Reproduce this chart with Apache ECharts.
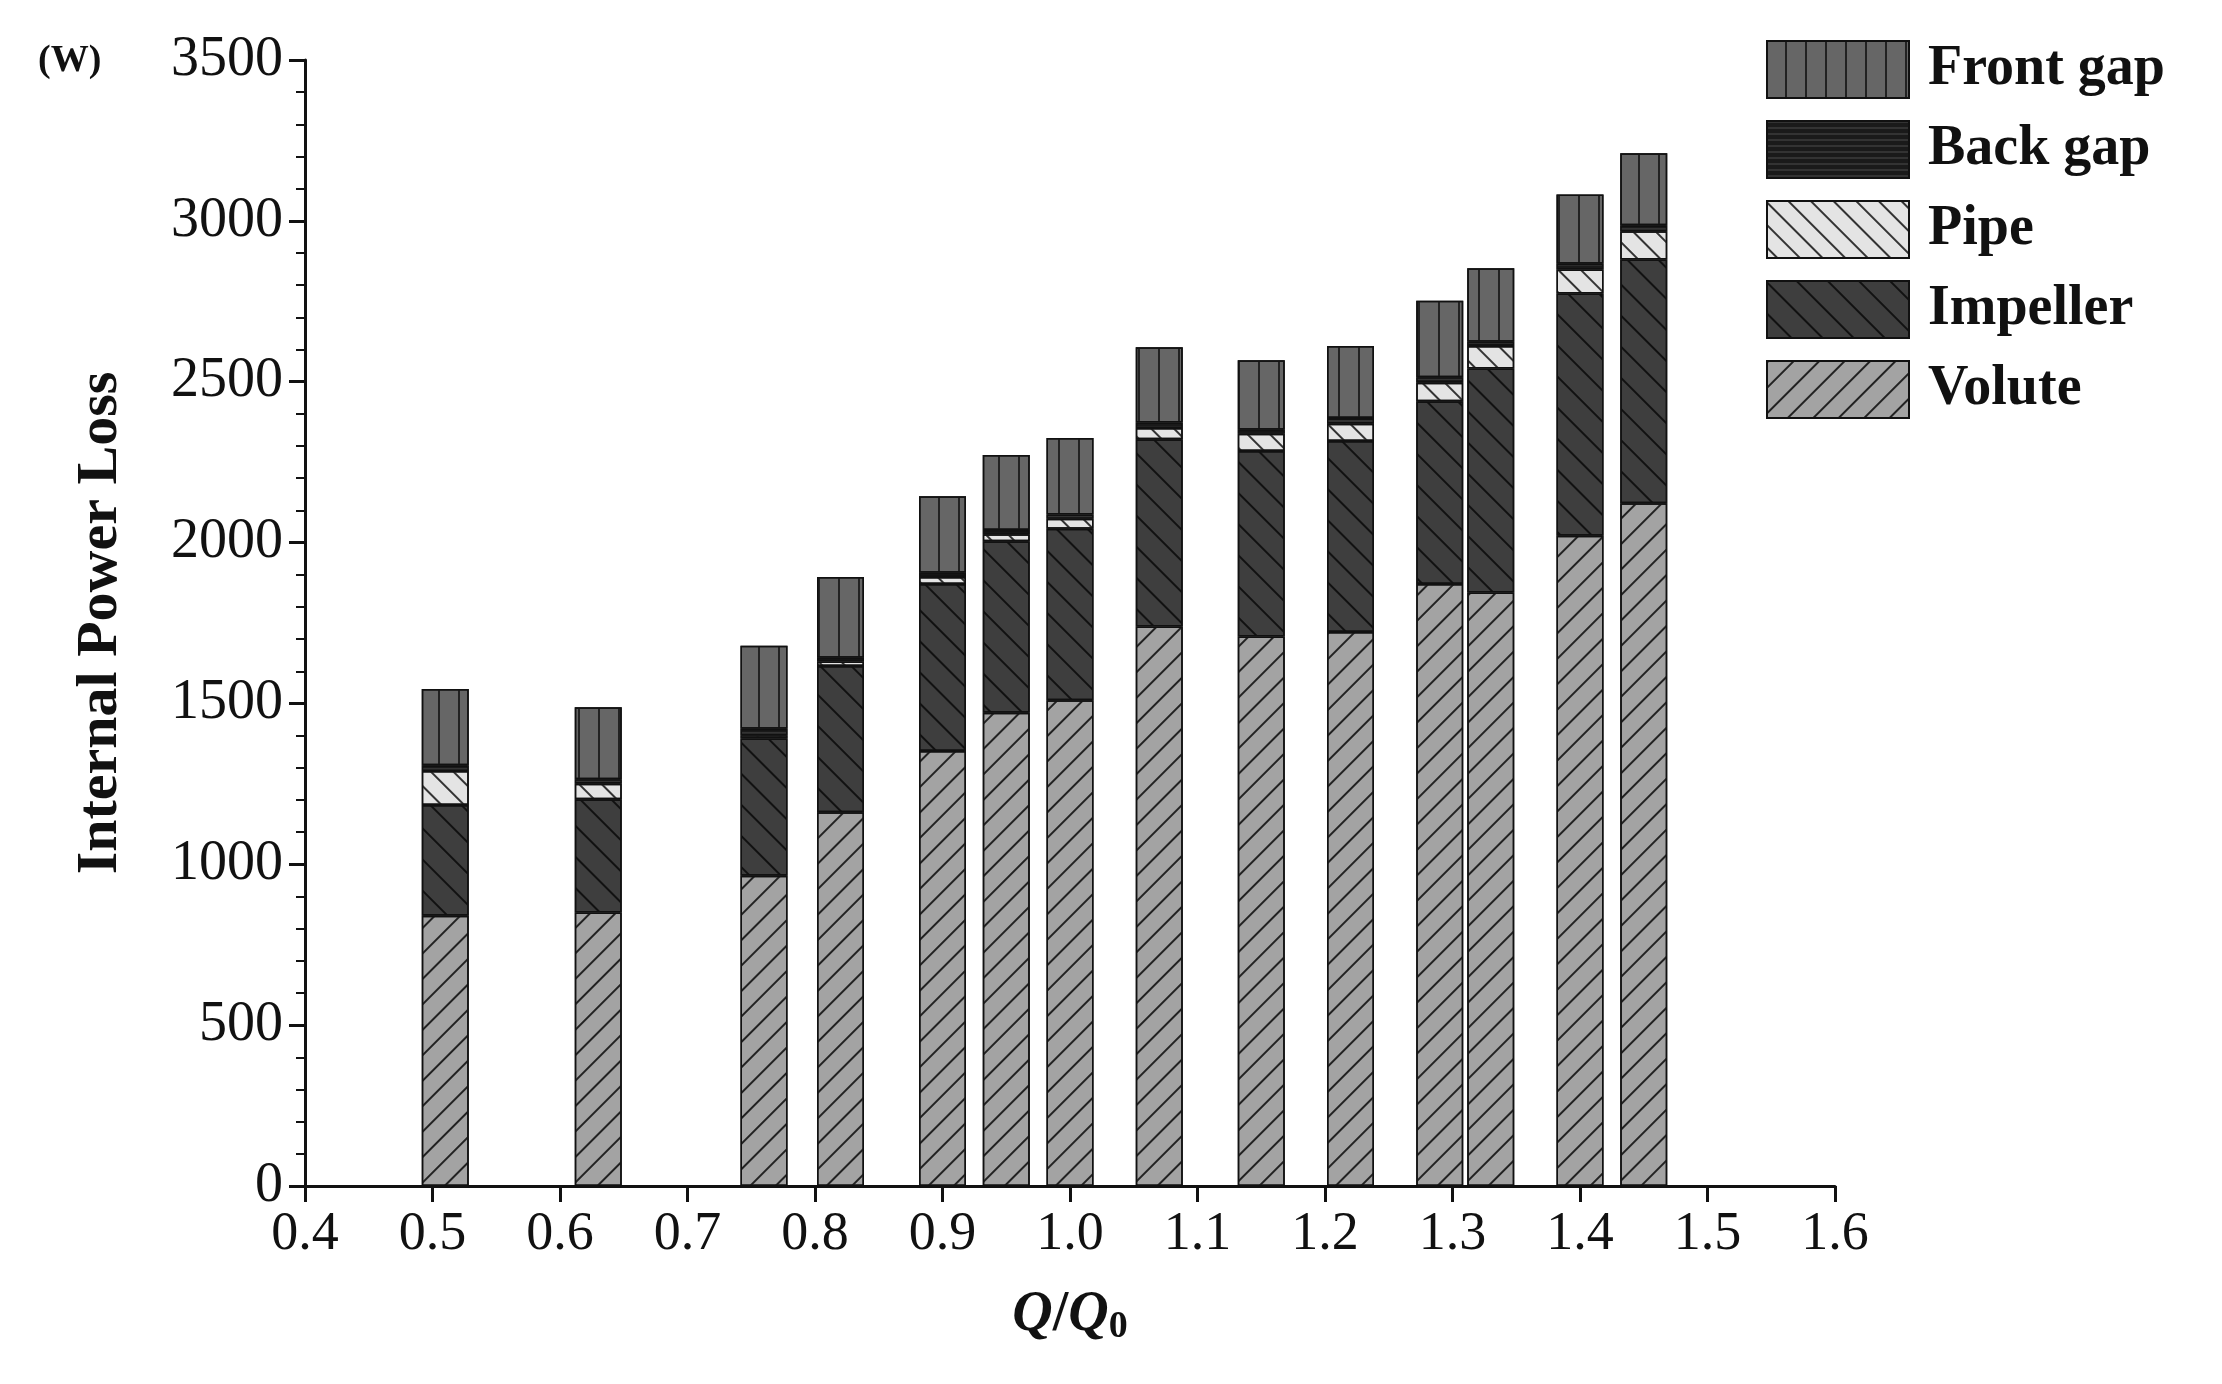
<!DOCTYPE html>
<html>
<head>
<meta charset="utf-8">
<script src="https://cdn.jsdelivr.net/npm/echarts@6/dist/echarts.min.js"></script>
<style>html,body{margin:0;padding:0;background:#fff}#chart{width:2222px;height:1384px}</style>
</head>
<body>
<div id="chart"></div>
<script>
// flow ratio Q/Q0 of each bar
var flowRatio = [0.51, 0.63, 0.76, 0.82, 0.90, 0.95, 1.00, 1.07, 1.15, 1.22, 1.29, 1.33, 1.40, 1.45];
// loss of each part (W)
var volute   = [840, 850, 964, 1162, 1352, 1471, 1510, 1739, 1708, 1722, 1871, 1845, 2021, 2122];
var impeller = [344, 352, 427, 454, 519, 533, 533, 582, 577, 594, 568, 696, 753, 758];
var pipe     = [106, 48, 10, 14, 22, 22, 31, 35, 53, 53, 58, 70, 75, 88];
var backGap  = [18, 14, 20, 12, 13, 13, 13, 17, 13, 18, 17, 13, 18, 18];
var frontGap = [237, 224, 258, 251, 238, 233, 238, 234, 216, 224, 238, 229, 215, 224];
var legendNames = ["Front gap", "Back gap", "Pipe", "Impeller", "Volute"];

var serif = "Liberation Serif";

// fine hidden category axis 0.40..1.60 step 0.01 so stacking works
var fineCats = [];
for (var k = 0; k <= 120; k++) fineCats.push((0.4 + k / 100).toFixed(2));

function onFine(arr) {
  var out = fineCats.map(function () { return null; });
  arr.forEach(function (v, i) { out[Math.round(flowRatio[i] * 100) - 40] = v; });
  return out;
}

function hatch(rot, gap, col) {
  return {
    symbol: "rect", symbolSize: 1, color: col,
    dashArrayX: [[1, 0]], dashArrayY: [2, gap], rotation: rot
  };
}

function bar(name, data, color, decal) {
  return {
    name: name, type: "bar", stack: "loss", barWidth: 47,
    xAxisIndex: 0,
    data: onFine(data),
    itemStyle: { color: color, borderColor: "#111", borderWidth: 1.5, decal: decal }
  };
}

var option = {
  backgroundColor: "#fff",
  animation: false,
  grid: { left: 305, right: 387, top: 60, bottom: 198, containLabel: false },
  legend: {
    data: legendNames,
    orient: "vertical",
    left: 1761, top: 35,
    icon: "rect",
    itemWidth: 142, itemHeight: 57, itemGap: 21,
    textStyle: { fontFamily: serif, fontWeight: "bold", fontSize: 56, color: "#111", padding: [0, 0, 0, 14] }
  },
  xAxis: [{
    type: "category", data: fineCats, boundaryGap: false, show: false
  }, {
    type: "value", min: 0.4, max: 1.6, interval: 0.1,
    position: "bottom",
    name: "{i|Q}{n|/}{i|Q}{s|0}",
    nameLocation: "middle", nameGap: 100,
    nameTextStyle: {
      rich: {
        i: { fontFamily: serif, fontStyle: "italic", fontWeight: "bold", fontSize: 56, color: "#111" },
        n: { fontFamily: serif, fontWeight: "bold", fontSize: 56, color: "#111" },
        s: { fontFamily: serif, fontWeight: "bold", fontSize: 38, color: "#111", padding: [22, 0, 0, 0] }
      }
    },
    axisLine: { lineStyle: { color: "#111", width: 3 } },
    axisTick: { length: 16, lineStyle: { width: 3, color: "#111" } },
    splitLine: { show: false },
    axisLabel: {
      fontFamily: serif, fontSize: 54, color: "#111", margin: 22,
      formatter: function (v) { return v.toFixed(1); }
    }
  }],
  yAxis: {
    type: "value", min: 0, max: 3500, interval: 500,
    name: "Internal Power Loss",
    nameLocation: "middle", nameGap: 175,
    nameTextStyle: { fontFamily: serif, fontWeight: "bold", fontSize: 58, color: "#111" },
    axisLine: { show: true, lineStyle: { color: "#111", width: 3 } },
    axisTick: { show: true, length: 16, lineStyle: { width: 3, color: "#111" } },
    minorTick: { show: true, splitNumber: 5, length: 9, lineStyle: { width: 2, color: "#111" } },
    splitLine: { show: false },
    axisLabel: { fontFamily: serif, fontSize: 56, color: "#111", margin: 22, formatter: function (v) { return String(v); } }
  },
  graphic: [{
    type: "text", left: 38, top: 42,
    style: { text: "(W)", fontFamily: serif, fontWeight: "bold", fontSize: 38, fill: "#111" }
  }],
  series: [
    bar("Volute", volute, "#a3a3a3", hatch(-Math.PI / 4, 16, "#222")),
    bar("Impeller", impeller, "#3e3e3e", hatch(Math.PI / 4, 20, "#111")),
    bar("Pipe", pipe, "#e4e4e4", {
      symbol: "rect", symbolSize: 1, color: "#333",
      dashArrayX: [[1, 0]], dashArrayY: [2, 14], rotation: Math.PI / 4
    }),
    bar("Back gap", backGap, "#1a1a1a", hatch(0, 4, "#333")),
    bar("Front gap", frontGap, "#666666", hatch(Math.PI / 2, 18, "#222"))
  ]
};

var chart = echarts.init(document.getElementById("chart"));
chart.setOption(option);
</script>
</body>
</html>
